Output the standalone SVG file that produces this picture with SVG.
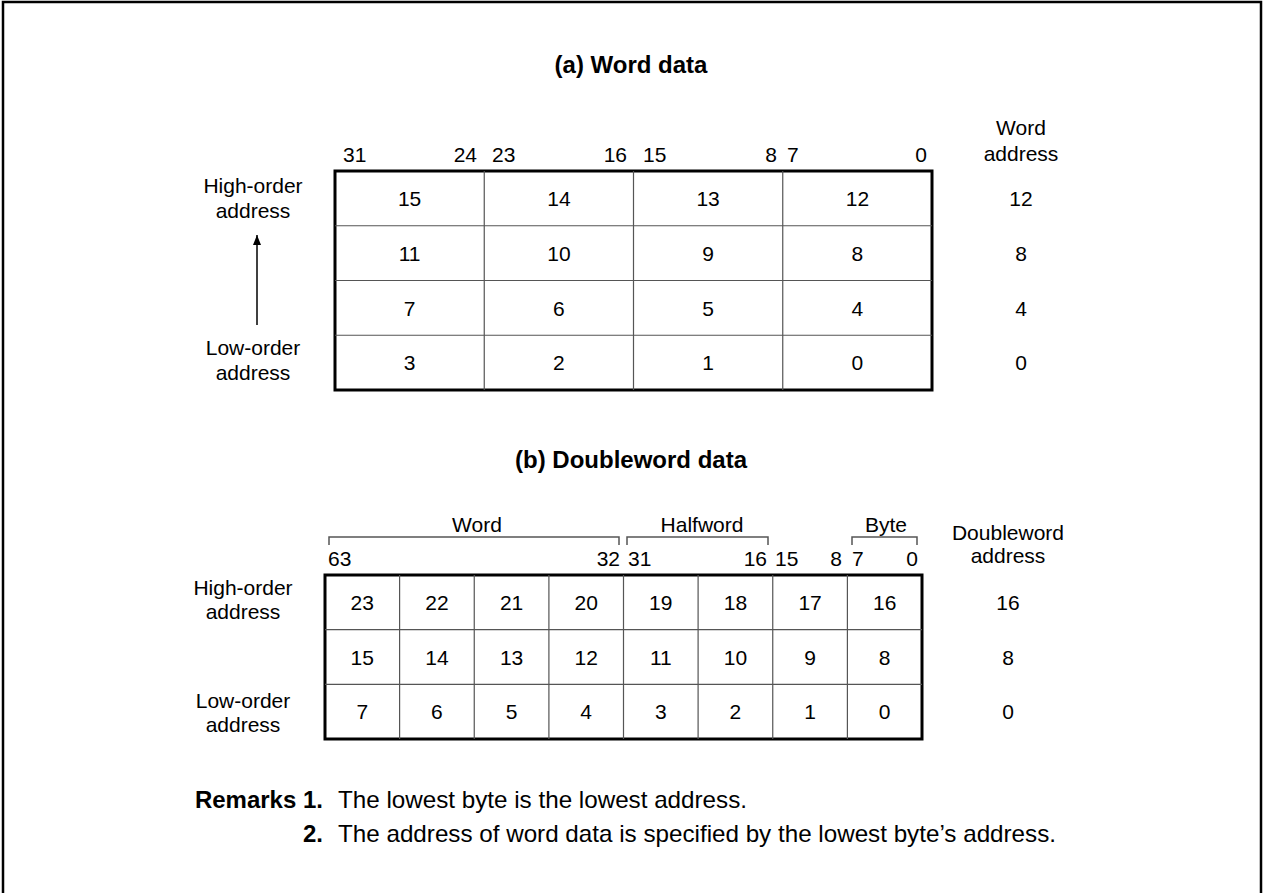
<svg xmlns="http://www.w3.org/2000/svg" width="1266" height="893" viewBox="0 0 1266 893">
<style>
text{font-family:"Liberation Sans",Arial,sans-serif;font-size:21px;fill:#000}
.c{text-anchor:middle}
.e{text-anchor:end}
.t{font-size:24px;font-weight:bold;text-anchor:middle}
.r{font-size:24px}
.rb{font-size:24px;font-weight:bold;text-anchor:end}
.outer{fill:none;stroke:#000;stroke-width:3}
.grid{stroke:#555;stroke-width:1.2;fill:none}
.br{stroke:#555;stroke-width:1.5;fill:none}
</style>
<defs>
<marker id="ah" markerWidth="10" markerHeight="8" refX="10" refY="4" orient="auto" markerUnits="userSpaceOnUse" viewBox="0 0 10 8">
<path d="M0,0 L10,4 L0,8 Z" fill="#000"/>
</marker>
</defs>
<rect x="3" y="2" width="1258" height="900" fill="none" stroke="#000" stroke-width="2.5"/>

<text class="t" x="631" y="73">(a) Word data</text>

<g id="wordBits">
<text x="343" y="162">31</text>
<text class="e" x="477" y="162">24</text>
<text x="492" y="162">23</text>
<text class="e" x="627" y="162">16</text>
<text x="643" y="162">15</text>
<text class="e" x="777" y="162">8</text>
<text x="787" y="162">7</text>
<text class="e" x="927" y="162">0</text>
</g>

<g id="wordAddrHeader">
<text class="c" x="1021" y="135">Word</text>
<text class="c" x="1021" y="161">address</text>
</g>

<g id="wordTable">
<rect class="outer" x="335" y="171" width="597" height="219"/>
<path class="grid" d="M484.25,171V390M633.5,171V390M782.75,171V390M335,225.75H932M335,280.5H932M335,335.25H932"/>
<text class="c" x="409.6" y="206">15</text><text class="c" x="558.9" y="206">14</text><text class="c" x="708.1" y="206">13</text><text class="c" x="857.4" y="206">12</text>
<text class="c" x="409.6" y="261">11</text><text class="c" x="558.9" y="261">10</text><text class="c" x="708.1" y="261">9</text><text class="c" x="857.4" y="261">8</text>
<text class="c" x="409.6" y="316">7</text><text class="c" x="558.9" y="316">6</text><text class="c" x="708.1" y="316">5</text><text class="c" x="857.4" y="316">4</text>
<text class="c" x="409.6" y="370">3</text><text class="c" x="558.9" y="370">2</text><text class="c" x="708.1" y="370">1</text><text class="c" x="857.4" y="370">0</text>
</g>

<g id="wordAddrValues">
<text class="c" x="1021" y="206">12</text>
<text class="c" x="1021" y="261">8</text>
<text class="c" x="1021" y="316">4</text>
<text class="c" x="1021" y="370">0</text>
</g>

<g id="wordHigh">
<text class="c" x="253" y="193">High-order</text>
<text class="c" x="253" y="218">address</text>
</g>
<g id="wordLow">
<text class="c" x="253" y="355">Low-order</text>
<text class="c" x="253" y="380">address</text>
</g>
<g id="connectors">
<line x1="257" y1="325" x2="257" y2="235" stroke="#000" stroke-width="1.5" marker-end="url(#ah)"/>
</g>

<text class="t" x="631" y="468">(b) Doubleword data</text>

<g id="brackets">
<path class="br" d="M329,545V537H619V545"/>
<path class="br" d="M627,545V537H768V545"/>
<path class="br" d="M852,545V537H917V545"/>
<text class="c" x="477" y="532">Word</text>
<text class="c" x="702" y="532">Halfword</text>
<text class="c" x="886" y="532">Byte</text>
</g>

<g id="dwBits">
<text x="328" y="566">63</text>
<text class="e" x="620" y="566">32</text>
<text x="628" y="566">31</text>
<text class="e" x="767" y="566">16</text>
<text x="775" y="566">15</text>
<text class="e" x="842" y="566">8</text>
<text x="852" y="566">7</text>
<text class="e" x="918" y="566">0</text>
</g>

<g id="dwAddrHeader">
<text class="c" x="1008" y="540">Doubleword</text>
<text class="c" x="1008" y="563">address</text>
</g>

<g id="dwTable">
<rect class="outer" x="325" y="575" width="597" height="164"/>
<path class="grid" d="M399.6,575V739M474.25,575V739M548.9,575V739M623.5,575V739M698.1,575V739M772.75,575V739M847.4,575V739M325,629.7H922M325,684.3H922"/>
<text class="c" x="362.3" y="610">23</text><text class="c" x="436.9" y="610">22</text><text class="c" x="511.6" y="610">21</text><text class="c" x="586.2" y="610">20</text><text class="c" x="660.8" y="610">19</text><text class="c" x="735.4" y="610">18</text><text class="c" x="810.1" y="610">17</text><text class="c" x="884.7" y="610">16</text>
<text class="c" x="362.3" y="665">15</text><text class="c" x="436.9" y="665">14</text><text class="c" x="511.6" y="665">13</text><text class="c" x="586.2" y="665">12</text><text class="c" x="660.8" y="665">11</text><text class="c" x="735.4" y="665">10</text><text class="c" x="810.1" y="665">9</text><text class="c" x="884.7" y="665">8</text>
<text class="c" x="362.3" y="719">7</text><text class="c" x="436.9" y="719">6</text><text class="c" x="511.6" y="719">5</text><text class="c" x="586.2" y="719">4</text><text class="c" x="660.8" y="719">3</text><text class="c" x="735.4" y="719">2</text><text class="c" x="810.1" y="719">1</text><text class="c" x="884.7" y="719">0</text>
</g>

<g id="dwAddrValues">
<text class="c" x="1008" y="610">16</text>
<text class="c" x="1008" y="665">8</text>
<text class="c" x="1008" y="719">0</text>
</g>

<g id="dwHigh">
<text class="c" x="243" y="595">High-order</text>
<text class="c" x="243" y="619">address</text>
</g>
<g id="dwLow">
<text class="c" x="243" y="708">Low-order</text>
<text class="c" x="243" y="732">address</text>
</g>

<g id="remarks">
<text class="rb" x="323" y="808">Remarks 1.</text>
<text class="r" x="338" y="808" textLength="409" lengthAdjust="spacingAndGlyphs">The lowest byte is the lowest address.</text>
<text class="rb" x="323" y="842">2.</text>
<text class="r" x="338" y="842" textLength="718" lengthAdjust="spacingAndGlyphs">The address of word data is specified by the lowest byte’s address.</text>
</g>
</svg>
